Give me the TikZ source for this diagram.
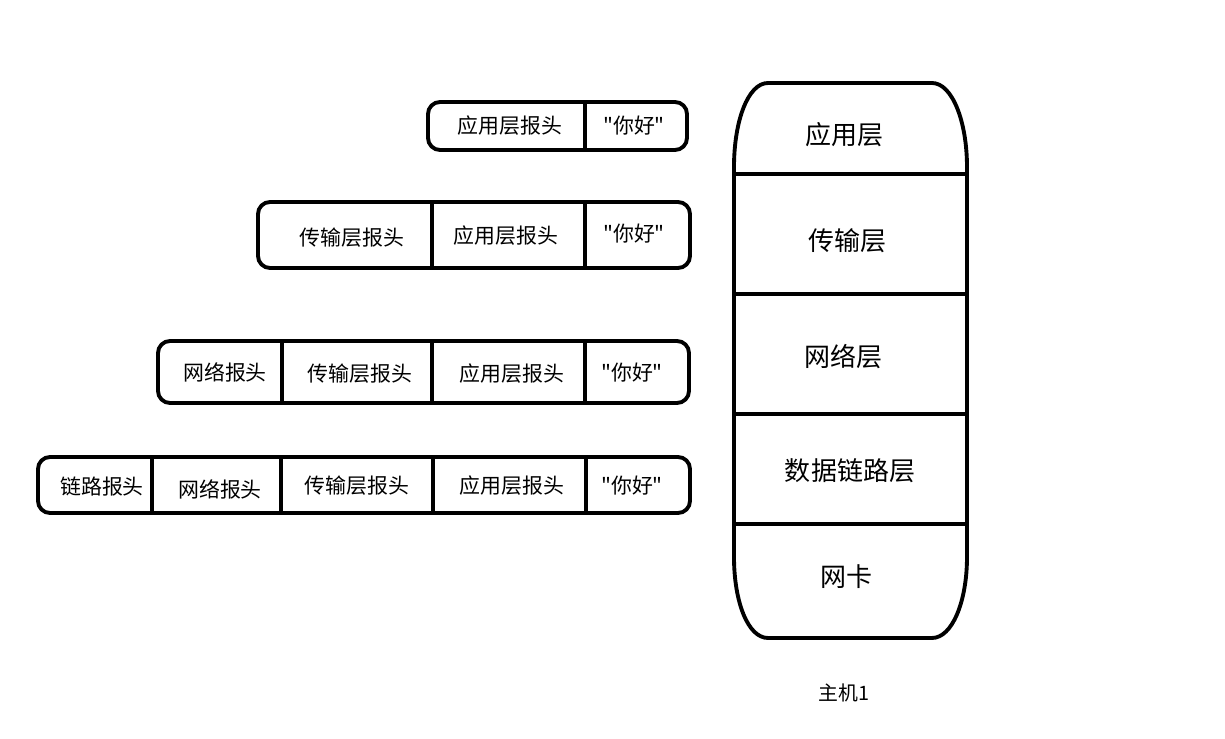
\documentclass[tikz,border=0pt]{standalone}
\usepackage{fontspec}
\setmainfont{Noto Sans CJK SC}[Ligatures=TeXOff]
\tikzset{
	pkt/.style={draw, line width=2.2pt, rounded corners=0.24cm},
	sep/.style={line width=2.2pt},
	field/.style={font=\fontsize{11.9pt}{14pt}\selectfont},
	layer/.style={font=\fontsize{14.8pt}{18pt}\selectfont},
	hostname/.style={font=\fontsize{11.3pt}{14pt}\selectfont},
}
\begin{document}
\begin{tikzpicture}[x=0.02cm, y=-0.02cm]
				\useasboundingbox (0,0) rectangle (1225,739);
				% packet 1
				\draw[pkt] (428,102) rectangle (687,150);
				\draw[sep] (585,102) -- (585,150);
				\node[field] (app1)at(510, 126) {应用层报头};
				\node[field] (hi1)at(634, 126) {"你好"};
				% packet 2
				\draw[pkt] (258,202) rectangle (690,268);
				\draw[sep] (432,202) -- (432,268);
				\draw[sep] (585,202) -- (585,268);
				\node[field] (trans2)at(352, 238) {传输层报头};
				\node[field] (app2)at(506, 236) {应用层报头};
				\node[field] (hi2)at(634, 234) {"你好"};
				% packet 3
				\draw[pkt] (158,341) rectangle (689,403);
				\draw[sep] (282,341) -- (282,403);
				\draw[sep] (432,341) -- (432,403);
				\draw[sep] (585,341) -- (585,403);
				\node[field] (net3)at(225, 372) {网络报头};
				\node[field] (trans3)at(360, 374) {传输层报头};
				\node[field] (app3)at(512, 374) {应用层报头};
				\node[field] (hi3)at(632, 373) {"你好"};
				% packet 4
				\draw[pkt] (38,457) rectangle (690,513);
				\draw[sep] (152,457) -- (152,513);
				\draw[sep] (281,457) -- (281,513);
				\draw[sep] (433,457) -- (433,513);
				\draw[sep] (586,457) -- (586,513);
				\node[field] (link4)at(102, 487) {链路报头};
				\node[field] (net4)at(220, 489) {网络报头};
				\node[field] (trans4)at(357, 486) {传输层报头};
				\node[field] (app4)at(512, 486) {应用层报头};
				\node[field] (hi4)at(632, 486) {"你好"};
				% host stack
				\draw[sep] (734,167) .. controls (734,121) and (748,83) .. (768,83) -- (932,83)
					.. controls (952,83) and (967,121) .. (967,167) -- (967,557)
					.. controls (967,602) and (952,638) .. (932,638) -- (768,638)
					.. controls (748,638) and (734,602) .. (734,557) -- cycle;
				\draw[sep] (734,174) -- (967,174);
				\draw[sep] (734,294) -- (967,294);
				\draw[sep] (734,414) -- (967,414);
				\draw[sep] (734,524) -- (967,524);
				\node[layer] (app)at(844, 135) {应用层};
				\node[layer] (trans)at(847, 241) {传输层};
				\node[layer] (net)at(843, 357) {网络层};
				\node[layer] (link)at(850, 471) {数据链路层};
				\node[layer] (nic)at(846, 577) {网卡};
				\node[hostname] (host)at(844, 693) {主机1};
		\end{tikzpicture}
\end{document}
